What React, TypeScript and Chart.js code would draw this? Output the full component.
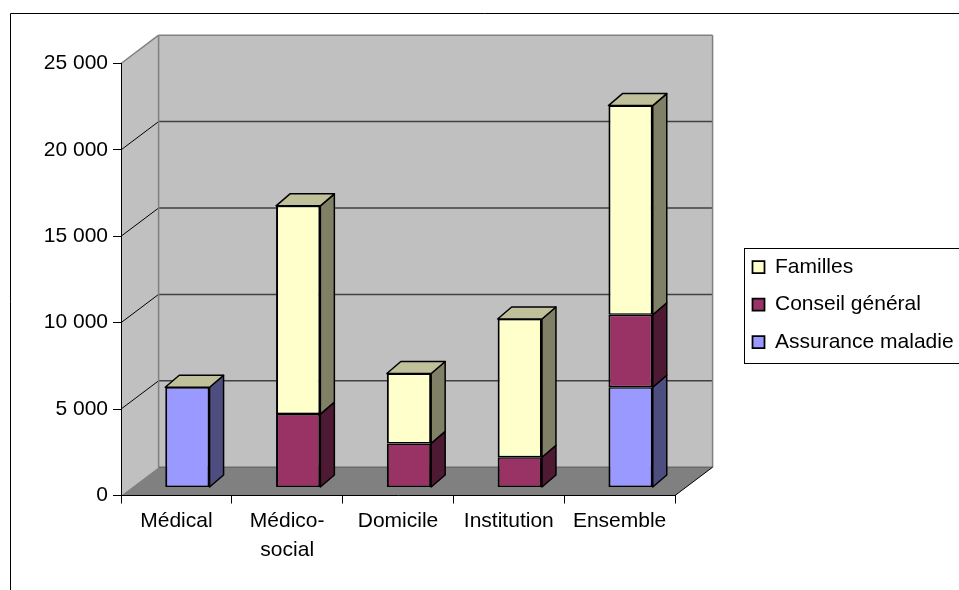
import React, { useEffect, useRef } from 'react';
import { Chart, registerables } from 'chart.js';

Chart.register(...registerables);

// Categories (x axis) and stacked series, bottom to top
const CATEGORIES: (string | string[])[] = ['Médical', ['Médico-', 'social'], 'Domicile', 'Institution', 'Ensemble'];
const ASSURANCE_MALADIE = [5800, 0, 0, 0, 5800];
const CONSEIL_GENERAL = [0, 4250, 2550, 1750, 4200];
const FAMILLES = [0, 12050, 4050, 8000, 12100];
const SERIES_LABELS = ['Assurance maladie', 'Conseil général', 'Familles'];

// Value axis
const Y_MIN = 0;
const Y_MAX = 25000;
const Y_STEP = 5000;

// Face colours: front, side, top
const FRONT_COLORS = ['#9999FF', '#993366', '#FFFFCC'];
const SIDE_COLORS = ['#4D4D80', '#4D1933', '#808066'];
const TOP_COLOR = '#C0C09A';

// Oblique projection offsets
const WALL = { dx: 37.6, dy: -28.3 };
const BAR_SHIFT = { dx: 11, dy: -8 };
const DEPTH = { dx: 14, dy: -12 };

const FONT = '"Liberation Sans", Arial, sans-serif';

const formatThousands = (v: number) => String(v).replace(/\B(?=(\d{3})+(?!\d))/g, ' ');

function poly(ctx: CanvasRenderingContext2D, pts: number[][], fill?: string, stroke?: string, lw = 1) {
  ctx.beginPath();
  ctx.moveTo(pts[0][0], pts[0][1]);
  for (let i = 1; i < pts.length; i++) ctx.lineTo(pts[i][0], pts[i][1]);
  ctx.closePath();
  if (fill) {
    ctx.fillStyle = fill;
    ctx.fill();
  }
  if (stroke) {
    ctx.strokeStyle = stroke;
    ctx.lineWidth = lw;
    ctx.stroke();
  }
}

function line(ctx: CanvasRenderingContext2D, x1: number, y1: number, x2: number, y2: number, color: string, lw: number) {
  ctx.beginPath();
  ctx.moveTo(x1, y1);
  ctx.lineTo(x2, y2);
  ctx.strokeStyle = color;
  ctx.lineWidth = lw;
  ctx.stroke();
}

// Back wall, side wall, floor and their grid lines
const wallsPlugin = {
  id: 'walls',
  beforeDraw(chart: any) {
    const { ctx, chartArea: a } = chart;
    const y = chart.scales.y;
    const L = a.left;
    const R = a.right;
    const T = y.getPixelForValue(Y_MAX);
    const B = y.getPixelForValue(Y_MIN);
    ctx.save();
    ctx.fillStyle = '#FFFFFF';
    ctx.fillRect(0, 0, chart.width, chart.height);

    // back wall
    ctx.fillStyle = '#C0C0C0';
    ctx.fillRect(L + WALL.dx, T + WALL.dy, R - L, B - T);
    // side wall
    poly(ctx, [[L, T], [L + WALL.dx, T + WALL.dy], [L + WALL.dx, B + WALL.dy], [L, B]], '#C0C0C0');
    // floor
    poly(ctx, [[L, B], [L + WALL.dx, B + WALL.dy], [R + WALL.dx, B + WALL.dy], [R, B]], '#808080');

    // grid lines on the walls
    for (const t of y.ticks) {
      const v = t.value;
      if (v <= Y_MIN || v >= Y_MAX) continue;
      const py = y.getPixelForValue(v);
      line(ctx, L + WALL.dx, py + WALL.dy, R + WALL.dx, py + WALL.dy, '#404040', 1.5);
      line(ctx, L, py, L + WALL.dx, py + WALL.dy, '#000000', 1);
    }

    // wall borders
    ctx.lineJoin = 'miter';
    line(ctx, L, T, L + WALL.dx, T + WALL.dy, '#808080', 1.5);
    line(ctx, L + WALL.dx, T + WALL.dy, R + WALL.dx, T + WALL.dy, '#808080', 1.5);
    line(ctx, L + WALL.dx, T + WALL.dy, L + WALL.dx, B + WALL.dy, '#808080', 1.5);
    line(ctx, R + WALL.dx, T + WALL.dy, R + WALL.dx, B + WALL.dy, '#808080', 1.5);
    line(ctx, L + WALL.dx, B + WALL.dy, R + WALL.dx, B + WALL.dy, '#6A6A6A', 1.5);
    // floor right edge
    line(ctx, R, B, R + WALL.dx, B + WALL.dy, '#000000', 1);
    ctx.restore();

    // legend placement to the right of the plot
    const lg = chart.legend;
    if (lg) {
      lg.left = 736;
      lg.top = 240;
      lg.right = 1200;
      lg.bottom = 440;
      lg.width = lg.right - lg.left;
      lg.height = lg.bottom - lg.top;
    }
  },
};

// Bars are drawn on a plane set back from the axes; sides and tops added after
const barDepthPlugin = {
  id: 'barDepth',
  beforeDatasetsDraw(chart: any) {
    chart.ctx.save();
    chart.ctx.translate(BAR_SHIFT.dx, BAR_SHIFT.dy);
  },
  afterDatasetsDraw(chart: any) {
    const ctx = chart.ctx as CanvasRenderingContext2D;
    ctx.restore();
    ctx.save();
    ctx.translate(BAR_SHIFT.dx, BAR_SHIFT.dy);
    ctx.lineJoin = 'round';
    const n = chart.data.datasets.length;
    for (let di = 0; di < n; di++) {
      const meta = chart.getDatasetMeta(di);
      meta.data.forEach((el: any) => {
        const { x, y, base, width } = el.getProps(['x', 'y', 'base', 'width'], true);
        if (Math.abs(base - y) < 0.5) return;
        const xr = x + width / 2;
        const top = Math.min(y, base);
        const bot = Math.max(y, base);
        poly(
          ctx,
          [[xr, top], [xr + DEPTH.dx, top + DEPTH.dy], [xr + DEPTH.dx, bot + DEPTH.dy], [xr, bot]],
          SIDE_COLORS[di],
          '#000000',
          1.5
        );
      });
    }
    const topMeta = chart.getDatasetMeta(n - 1);
    topMeta.data.forEach((el: any) => {
      const { x, y, width } = el.getProps(['x', 'y', 'width'], true);
      const xl = x - width / 2;
      const xr = x + width / 2;
      poly(ctx, [[xl, y], [xl + DEPTH.dx, y + DEPTH.dy], [xr + DEPTH.dx, y + DEPTH.dy], [xr, y]], TOP_COLOR, '#000000', 1.5);
    });
    ctx.restore();
  },
  afterDraw(chart: any) {
    const ctx = chart.ctx as CanvasRenderingContext2D;
    ctx.save();
    // legend frame
    ctx.strokeStyle = '#000000';
    ctx.lineWidth = 1;
    ctx.strokeRect(744.5, 248.5, 400, 115);
    // chart frame
    ctx.beginPath();
    ctx.moveTo(10.5, chart.height);
    ctx.lineTo(10.5, 13.5);
    ctx.lineTo(chart.width, 13.5);
    ctx.stroke();
    ctx.restore();
  },
};

export default function App() {
  const ref = useRef<HTMLCanvasElement>(null);

  useEffect(() => {
    if (!ref.current) return;
    const values = [ASSURANCE_MALADIE, CONSEIL_GENERAL, FAMILLES];
    const chart = new Chart(ref.current, {
      type: 'bar',
      data: {
        labels: CATEGORIES as any,
        datasets: values.map((data, i) => ({
          label: SERIES_LABELS[i],
          data,
          backgroundColor: FRONT_COLORS[i],
          borderColor: '#000000',
          borderWidth: { left: 2, right: 2, top: 1.5, bottom: 1.5 } as any,
          borderSkipped: false,
          categoryPercentage: 1,
          barPercentage: 0.4,
          clip: false as any,
        })),
      },
      options: {
        responsive: false,
        devicePixelRatio: 1,
        animation: false,
        layout: { padding: { top: 63.5, right: 284, left: 0, bottom: 0 } },
        font: { family: FONT, size: 21 },
        color: '#000000',
        plugins: {
          tooltip: { enabled: false },
          legend: {
            position: 'chartArea' as any,
            align: 'start',
            reverse: true,
            labels: {
              boxWidth: 12,
              boxHeight: 12,
              padding: 16.5,
              color: '#000000',
              font: { family: FONT, size: 21 },
            },
          },
        },
        scales: {
          x: {
            stacked: true,
            afterFit: (s: any) => {
              s.height = 94.5;
            },
            grid: {
              display: true,
              drawOnChartArea: false,
              drawTicks: true,
              tickLength: 8,
              color: '#000000',
              offset: true,
            },
            border: { display: true, color: '#000000', width: 1 },
            ticks: {
              color: '#000000',
              padding: 4,
              maxRotation: 0,
              autoSkip: false,
              font: { family: FONT, size: 21, lineHeight: 1.35 },
            },
          },
          y: {
            stacked: true,
            min: Y_MIN,
            max: Y_MAX,
            afterFit: (s: any) => {
              s.width = 121;
            },
            grid: {
              display: true,
              drawOnChartArea: false,
              drawTicks: true,
              tickLength: 8,
              color: '#000000',
            },
            border: { display: true, color: '#000000', width: 1 },
            ticks: {
              stepSize: Y_STEP,
              color: '#000000',
              padding: 5,
              font: { family: FONT, size: 21 },
              callback: (v: any) => formatThousands(Number(v)),
            },
          },
        },
      },
      plugins: [wallsPlugin, barDepthPlugin],
    });
    return () => chart.destroy();
  }, []);

  return (
    <div
      style={{
        position: 'fixed',
        left: 0,
        top: 0,
        width: 959,
        height: 590,
        overflow: 'hidden',
        background: '#FFFFFF',
      }}
    >
      <canvas ref={ref} width={959} height={590} style={{ display: 'block' }} />
    </div>
  );
}
